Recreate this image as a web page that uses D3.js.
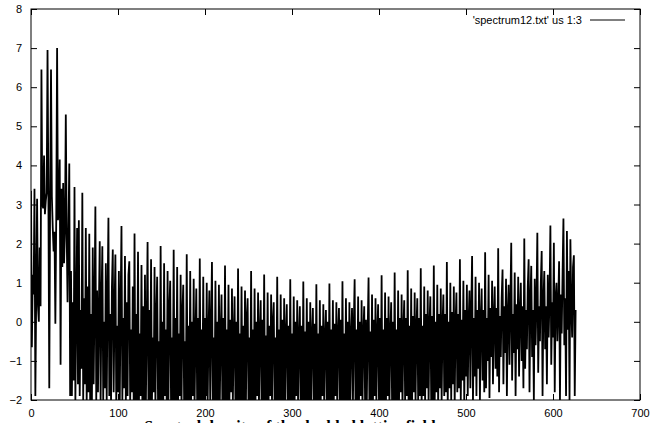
<!DOCTYPE html>
<html>
<head>
<meta charset="utf-8">
<script src="https://cdnjs.cloudflare.com/ajax/libs/d3/7.8.5/d3.min.js"></script>
<style>
  body { margin: 0; background: #fff; }
  text { font-family: "Liberation Sans", Arial, sans-serif; font-size: 11px; fill: #000; }
</style>
</head>
<body>
<div id="chart-container"></div>
<script>
var xTicks = [0, 100, 200, 300, 400, 500, 600, 700];
var yTicks = [-2, -1, 0, 1, 2, 3, 4, 5, 6, 7, 8];
var legendLabel = "'spectrum12.txt' us 1:3";
var bottomLabel = "Spectral density of the doubled lattice field";

// column 3 of spectrum12.txt, one value per x = 0, 1, 2, ...
// (values under -2 run off the bottom of the frame and are clipped)
var spectrum = [
  3.35, -0.65, 1.2, 0.7, 3.4, -1.9, 0.7, 3.15, 0.4, 0.0, 1.9, 0.4, 6.45, 3.0, 2.9,
  4.25, 2.75, 3.1, 3.3, 6.95, 3.2, -1.7, 3.2, 6.45, 3.2, 2.4, 1.8, 2.3, -0.05, 2.6,
  7.0, 2.6, 2.9, 4.15, -1.1, 3.4, 1.4, 3.55, 1.5, 2.3, 5.3, 2.3, 0.5, 2.3, 4.05,
  -1.9, 1.3, -1.9, 0.5, -1.5, 3.45, -2.0, 0.2, 2.4, -1.6, 2.6, -1.9, 0.3, -1.2, 3.3,
  -2.0, 0.6, -1.6, 2.4, -2.1, 0.9, -1.8, 2.25, -2.0, 0.2, -2.1, 1.9, -1.6, 0.4, 2.95,
  -2.0, 0.8, -1.8, 0.3, 2.06, -2.1, 0.5, 1.93, -2.0, 0.0, -1.7, 1.5, -2.1, 0.6, 2.66,
  -1.9, 0.2, -2.1, 0.9, 1.85, -1.8, 0.3, 1.72, -2.1, -0.1, -1.8, 1.3, -2.1, 0.4, 2.45,
  -2.0, 0.1, -1.7, 1.68, -2.1, 0.5, -1.9, 1.2, 1.55, -2.1, -0.2, -1.8, 0.9, -2.0, 2.26,
  -2.1, 0.2, -2.0, 1.79, -2.2, -0.3, -1.9, 1.45, -2.1, 0.4, -2.0, 1.2, -2.2, -0.1, 2.04,
  -2.0, 0.3, -2.2, 1.6, -2.1, -0.4, -1.8, 1.4, -2.2, 0.1, 1.15, -2.0, -0.5, -2.2, 1.94,
  -2.1, 0.0, -2.2, 1.5, -1.9, -0.2, -2.2, 1.3, -2.0, 0.3, 1.05, -2.2, -0.4, -2.0, 1.84,
  -2.2, 0.1, -2.0, 1.4, -2.2, -0.3, -1.9, 1.2, -2.2, 0.2, 0.95, -2.1, -0.5, -2.0, 1.73,
  -2.1, -0.1, -2.2, 1.3, -2.1, 0.0, -1.9, 1.1, -2.2, -0.4, 0.85, -2.1, 0.1, -2.0, 1.62,
  -2.2, -0.2, -2.0, 1.15, -2.2, 0.1, -1.9, 1.0, -2.2, -0.3, 0.8, -2.1, -0.1, 1.53,
  -2.1, -0.4, -2.0, 1.05, -2.2, 0.0, -2.0, 0.95, -2.1, -0.3, 0.7, -2.2, 0.1, -2.0, 1.44,
  -2.2, -0.2, -2.0, 0.95, -2.2, 0.05, -1.8, 0.85, -2.1, -0.4, 0.65, -2.2, 0.0, -2.0, 1.36,
  -2.1, -0.3, -2.0, 0.9, -2.2, -0.1, -2.0, 0.8, -2.2, 0.1, 0.6, -2.1, -0.4, -2.1, 1.30,
  -2.2, -0.2, -2.0, 0.85, -2.1, 0.0, -1.9, 0.75, -2.2, -0.3, 0.55, -2.1, 0.05, -2.0, 1.21,
  -2.2, -0.35, -2.0, 0.75, -2.2, -0.1, -1.9, 0.7, -2.1, 0.0, 0.5, -2.2, -0.4, -2.0, 1.15,
  -2.1, -0.2, -2.0, 0.7, -2.2, 0.05, -2.0, 0.6, -2.2, -0.3, 0.45, -2.1, -0.1, -2.0, 1.09,
  -2.2, -0.3, -2.0, 0.65, -2.1, 0.0, -1.9, 0.55, -2.2, -0.4, 0.4, -2.1, -0.1, -2.1, 1.03,
  -2.2, -0.25, -2.0, 0.6, -2.2, 0.0, -2.0, 0.5, -2.2, -0.35, 0.35, -2.1, -0.05, -2.0, 0.96,
  -2.1, -0.3, -2.0, 0.55, -2.2, -0.1, -1.9, 0.45, -2.2, -0.4, 0.3, -2.1, 0.0, -2.0, 0.98,
  -2.2, -0.2, -2.0, 0.55, -2.1, -0.05, -1.9, 0.5, -2.2, -0.3, 0.35, -2.1, 0.05, -2.0, 1.04,
  -2.2, -0.3, -2.0, 0.6, -2.2, 0.0, -2.0, 0.5, -2.1, -0.35, 0.35, -2.2, -0.1, 1.09,
  -2.2, -0.2, -2.0, 0.65, -2.1, 0.0, -1.9, 0.55, -2.2, -0.3, 0.4, -2.1, 0.05, -2.0, -0.2, 1.13,
  -2.2, -0.25, -2.0, 0.7, -2.2, 0.05, -1.9, 0.6, -2.1, -0.3, 0.45, -2.1, 0.1, -2.0, 1.19,
  -2.2, -0.2, -2.0, 0.75, -2.1, 0.1, -1.9, 0.65, -2.2, -0.3, 0.5, -2.0, 0.0, -2.0, 1.26,
  -2.1, -0.2, -2.0, 0.8, -2.1, 0.1, -1.8, 0.7, -2.2, -0.2, 0.55, -2.0, 0.1, -1.9, 1.32,
  -2.1, -0.1, -2.0, 0.85, -2.2, 0.15, -1.8, 0.75, -2.1, -0.2, 0.6, -2.0, 0.1, -1.9, 1.37,
  -2.2, -0.1, -1.9, 0.9, -2.1, 0.2, -1.7, 0.8, -2.1, -0.1, 0.65, -2.0, 0.15, -2.0, 1.44,
  -2.1, 0.0, -1.8, 0.95, -2.2, 0.2, -1.7, 0.85, -2.0, -0.1, 0.7, -1.9, 0.2, -1.8, 1.53,
  -2.1, 0.0, -1.7, 1.0, -2.0, 0.25, -1.6, 0.9, -2.1, -0.05, 0.75, -1.8, 0.2, -1.7, 1.60,
  -2.0, 0.05, -1.5, 1.05, -2.1, 0.3, -1.4, 0.95, -1.9, 0.0, 0.8, -1.7, 0.25, 1.68,
  -2.1, 0.1, -1.4, 1.15, -1.9, 0.3, -1.2, 1.0, -2.0, 0.05, 0.85, -1.5, 0.3, -1.8, 1.78,
  -1.7, 0.1, -1.0, 1.2, -1.95, 0.35, -0.9, 1.05, -1.6, 0.1, 0.9, -1.2, 0.35, -1.4, 1.88,
  -1.8, 0.15, -0.9, 0.6, 1.34, -1.6, 0.4, -0.8, 1.1, -1.9, 0.2, 0.95, -1.1, 0.4, 2.02,
  -1.5, 0.2, -0.8, 1.26, -1.9, 0.45, -0.7, 1.15, -1.4, 0.25, 1.0, -1.0, 0.4, -1.7, 2.13,
  -1.2, 0.3, -0.7, 0.9, 1.6, -1.8, 0.5, 1.43, -0.9, 0.3, -2.0, 1.1, -0.6, 0.5, 2.28,
  -1.3, 0.4, -0.5, 1.0, 1.81, -1.9, 0.55, 1.3, -0.7, 0.4, -1.6, 1.2, -0.4, 0.6, 2.46,
  -1.1, 0.5, -0.4, 2.02, -1.8, 0.6, 1.0, -0.5, 0.45, 1.55, -2.0, 0.7, -0.3, 1.25, 2.64,
  -0.6, 0.6, -1.9, 2.32, -0.2, 1.3, -2.0, 2.11, 0.4, -0.4, 1.4, 1.7, -1.9, 0.3
];

var W = 652, H = 423;
var margin = {top: 9, right: 12, bottom: 23, left: 31},
    width = W - margin.left - margin.right,
    height = H - margin.top - margin.bottom;

var svg = d3.select("#chart-container").append("svg")
  .attr("width", W).attr("height", H)
  .style("display", "block").style("background", "#fff");

var x = d3.scaleLinear().domain([0, 700]).range([margin.left, margin.left + width]);
var y = d3.scaleLinear().domain([-2, 8]).range([margin.top + height, margin.top]);

svg.append("clipPath").attr("id", "plot-clip")
  .append("rect")
  .attr("x", x(0)).attr("y", y(8))
  .attr("width", x(700) - x(0)).attr("height", y(-2) - y(8));

// inward ticks on all four sides, like gnuplot mirror tics
var tickLen = 6;
svg.append("g").attr("transform", "translate(0," + y(-2) + ")")
  .call(d3.axisBottom(x).tickValues(xTicks).tickSize(-tickLen).tickPadding(9).tickFormat(d3.format("d")))
  .call(function(g) { g.select(".domain").remove(); });
svg.append("g").attr("transform", "translate(0," + y(8) + ")")
  .call(d3.axisTop(x).tickValues(xTicks).tickSize(-tickLen).tickFormat(""))
  .call(function(g) { g.select(".domain").remove(); });
svg.append("g").attr("transform", "translate(" + x(0) + ",0)")
  .call(d3.axisLeft(y).tickValues(yTicks).tickSize(-tickLen).tickPadding(9).tickFormat(d3.format("d")))
  .call(function(g) { g.select(".domain").remove(); });
svg.append("g").attr("transform", "translate(" + x(700) + ",0)")
  .call(d3.axisRight(y).tickValues(yTicks).tickSize(-tickLen).tickFormat(""))
  .call(function(g) { g.select(".domain").remove(); });

svg.selectAll(".tick line").attr("stroke", "#000").attr("stroke-width", 1);
svg.selectAll(".tick text")
  .style("font-family", "'Liberation Sans', Arial, sans-serif")
  .style("font-size", "11px").attr("fill", "#000");

var line = d3.line()
  .x(function(d, i) { return x(i); })
  .y(function(d) { return y(d); });

svg.append("path")
  .datum(spectrum)
  .attr("clip-path", "url(#plot-clip)")
  .attr("d", line)
  .attr("fill", "none")
  .attr("stroke", "#000")
  .attr("stroke-width", 1.8)
  .attr("stroke-linejoin", "miter")
  .attr("stroke-miterlimit", 2);

svg.append("rect")
  .attr("x", x(0)).attr("y", y(8))
  .attr("width", x(700) - x(0)).attr("height", y(-2) - y(8))
  .attr("fill", "none").attr("stroke", "#000").attr("stroke-width", 1);

var legend = svg.append("g").attr("class", "legend");
legend.append("text")
  .attr("x", 582).attr("y", 24)
  .attr("text-anchor", "end")
  .text(legendLabel);
legend.append("line")
  .attr("x1", 590).attr("x2", 625).attr("y1", 20).attr("y2", 20)
  .attr("stroke", "#000").attr("stroke-width", 1);

// x label sits mostly below the bottom edge, as in the original frame
svg.append("text")
  .attr("x", 290).attr("y", 432)
  .attr("text-anchor", "middle")
  .style("font-family", "'Liberation Serif', serif")
  .style("font-size", "16px").style("font-weight", "bold")
  .text(bottomLabel);
</script>
</body>
</html>
